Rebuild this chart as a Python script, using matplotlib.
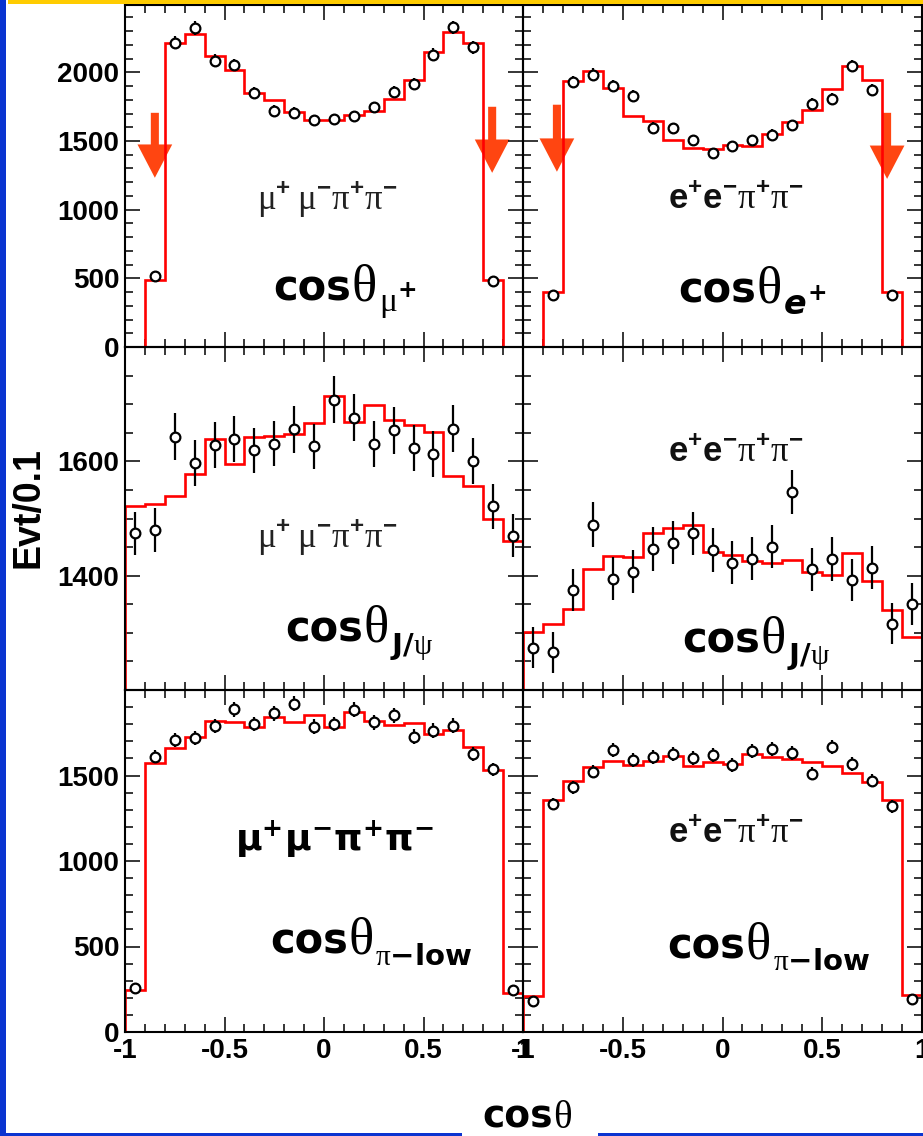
import numpy as np
import matplotlib
matplotlib.use("Agg")
import matplotlib.pyplot as plt
from matplotlib import font_manager as fm
from matplotlib.font_manager import FontProperties
from matplotlib.ticker import MultipleLocator, FixedLocator, NullFormatter
from matplotlib.patches import Rectangle
from matplotlib.textpath import TextToPath
from matplotlib.transforms import offset_copy

nan = np.nan

# ---------------- data ----------------
bin_edges = [-1.0, -0.9, -0.8, -0.7, -0.6, -0.5, -0.4, -0.3, -0.2, -0.1, 0.0,
             0.1, 0.2, 0.3, 0.4, 0.5, 0.6, 0.7, 0.8, 0.9, 1.0]

# row 1: cos(theta) of lepton+
mm_mu_hist = [0, 490, 2214, 2280, 2122, 2019, 1849, 1796, 1708, 1654, 1650,
              1691, 1715, 1805, 1946, 2146, 2294, 2214, 491, 0]
mm_mu_data = [nan, 516, 2214, 2323, 2085, 2053, 1849, 1720, 1703, 1650, 1659,
              1679, 1744, 1854, 1915, 2129, 2328, 2182, 479, nan]
mm_mu_err = [0, 23, 47, 48, 46, 45, 43, 41, 41, 41, 41, 41, 42, 43, 44, 46, 48, 47, 22, 0]

ee_e_hist = [0, 401, 1934, 2007, 1886, 1679, 1642, 1508, 1448, 1440, 1472,
             1460, 1552, 1635, 1727, 1878, 2044, 1946, 397, 0]
ee_e_data = [nan, 377, 1927, 1983, 1898, 1825, 1598, 1594, 1504, 1411, 1465,
             1504, 1545, 1613, 1769, 1808, 2044, 1873, 377, nan]
ee_e_err = [0, 19, 44, 45, 44, 43, 40, 40, 39, 38, 38, 39, 39, 40, 42, 43, 45, 43, 19, 0]

# row 2: cos(theta) of J/psi
mm_jpsi_hist = [1522, 1525, 1539, 1578, 1639, 1596, 1642, 1645, 1648, 1667,
                1714, 1669, 1698, 1673, 1664, 1651, 1575, 1557, 1499, 1461]
mm_jpsi_data = [1474, 1480, 1643, 1597, 1629, 1639, 1619, 1631, 1656, 1626,
                1708, 1676, 1630, 1654, 1623, 1613, 1657, 1601, 1521, 1470]
mm_jpsi_err = [37, 38, 41, 40, 40, 40, 40, 40, 41, 40, 41, 41, 40, 41, 40, 40, 41, 40, 39, 38]

ee_jpsi_hist = [1302, 1316, 1342, 1411, 1435, 1432, 1474, 1483, 1488, 1442,
                1437, 1425, 1423, 1427, 1406, 1401, 1439, 1391, 1340, 1293]
ee_jpsi_data = [1274, 1266, 1375, 1489, 1395, 1407, 1447, 1458, 1474, 1445,
                1423, 1430, 1451, 1546, 1411, 1429, 1392, 1414, 1316, 1350]
ee_jpsi_err = [36, 36, 37, 39, 37, 38, 38, 38, 38, 38, 38, 38, 38, 39, 38, 38, 37, 38, 36, 37]

# row 3: cos(theta) of low-momentum pion
mm_pi_hist = [247, 1576, 1660, 1728, 1821, 1810, 1786, 1845, 1813, 1851,
              1786, 1874, 1816, 1796, 1806, 1743, 1767, 1664, 1533, 228]
mm_pi_data = [257, 1611, 1705, 1718, 1790, 1888, 1800, 1864, 1919, 1786,
              1802, 1884, 1810, 1851, 1728, 1763, 1792, 1625, 1537, 247]
mm_pi_err = [16, 40, 41, 41, 42, 43, 42, 43, 44, 42, 42, 43, 43, 43, 42, 42, 42, 40, 39, 16]

ee_pi_hist = [208, 1354, 1465, 1547, 1582, 1562, 1582, 1615, 1556, 1578,
              1568, 1625, 1611, 1595, 1578, 1553, 1514, 1461, 1358, 214]
ee_pi_data = [183, 1332, 1430, 1523, 1650, 1592, 1607, 1625, 1601, 1621,
              1562, 1644, 1654, 1630, 1510, 1664, 1568, 1469, 1319, 193]
ee_pi_err = [14, 36, 38, 39, 41, 40, 40, 40, 40, 40, 40, 41, 41, 40, 39, 41, 40, 38, 36, 14]

# cut arrows (x position, tail y, tip y)
mm_cut_arrows = [(-0.85, 1705, 1232), (0.845, 1749, 1268)]
ee_cut_arrows = [(-0.83, 1764, 1276), (0.825, 1705, 1224)]

x_ticklabels = ["-1", "-0.5", "0", "0.5", "1"]

# ---------------- fonts ----------------
avail = {f.name for f in fm.fontManager.ttflist}
if "Liberation Sans Narrow" in avail:
    NUMFONT, NUMSIZE = "Liberation Sans Narrow", 24
else:
    NUMFONT, NUMSIZE = "Liberation Sans", 20

plt.rcParams["mathtext.fontset"] = "custom"
plt.rcParams["mathtext.rm"] = "Liberation Serif"
plt.rcParams["mathtext.it"] = "DejaVu Sans:bold:italic"
plt.rcParams["mathtext.bf"] = "DejaVu Sans:bold"
plt.rcParams["mathtext.sf"] = "Liberation Sans:bold"

W, H = 923, 1136
fig = plt.figure(figsize=(W / 100, H / 100), dpi=100)
fig.patch.set_facecolor("white")

# frame decoration (blue left bar, yellow top bar, blue bottom line with gap)
BLUE = "#0a34d0"
fig.patches.append(Rectangle((0, 0), 6 / W, 1, transform=fig.transFigure,
                             facecolor=BLUE, edgecolor="none", zorder=0))
fig.patches.append(Rectangle((8 / W, 1 - 4 / H), 1, 4 / H, transform=fig.transFigure,
                             facecolor="#ffcc00", edgecolor="none", zorder=0))
fig.patches.append(Rectangle((0, 0), 462 / W, 3 / H, transform=fig.transFigure,
                             facecolor=BLUE, edgecolor="none", zorder=0))
fig.patches.append(Rectangle((598 / W, 0), 1, 3 / H, transform=fig.transFigure,
                             facecolor=BLUE, edgecolor="none", zorder=0))

cols_px = [(125, 523), (523, 922)]
rows_px = [(5, 347), (347, 690), (690, 1032)]

centers = [(a + b) / 2 for a, b in zip(bin_edges[:-1], bin_edges[1:])]

panels = [
    [(mm_mu_hist, mm_mu_data, mm_mu_err), (ee_e_hist, ee_e_data, ee_e_err)],
    [(mm_jpsi_hist, mm_jpsi_data, mm_jpsi_err), (ee_jpsi_hist, ee_jpsi_data, ee_jpsi_err)],
    [(mm_pi_hist, mm_pi_data, mm_pi_err), (ee_pi_hist, ee_pi_data, ee_pi_err)],
]
ylims = [(0, 2490), (1200, 1800), (0, 2000)]
ymajor = [[0, 500, 1000, 1500, 2000], [1400, 1600], [0, 500, 1000, 1500]]
yminor = [100, 50, 100]

axes = [[None, None] for _ in range(3)]
for r in range(3):
    for c in range(2):
        x0, x1 = cols_px[c]
        ytop, ybot = rows_px[r]
        ax = fig.add_axes([x0 / W, (H - ybot) / H, (x1 - x0) / W, (ybot - ytop) / H])
        axes[r][c] = ax
        hist, data, err = panels[r][c]
        ax.stairs(hist, bin_edges, color="#ff0000", lw=1.9, zorder=2)
        ax.errorbar(centers, data, yerr=err, fmt="none", ecolor="black",
                    elinewidth=1.6, capsize=0, zorder=3)
        ax.plot(centers, data, "o", ms=7, mfc="white", mec="black", mew=1.6,
                zorder=4, clip_on=False)
        ax.set_xlim(-1, 1)
        ax.set_ylim(*ylims[r])
        ax.xaxis.set_major_locator(FixedLocator([-1, -0.5, 0, 0.5, 1]))
        ax.xaxis.set_minor_locator(MultipleLocator(0.1))
        ax.yaxis.set_major_locator(FixedLocator(ymajor[r]))
        ax.yaxis.set_minor_locator(MultipleLocator(yminor[r]))
        ax.tick_params(which="both", direction="in", top=True, right=True,
                       width=1.1, color="black")
        ax.tick_params(which="major", length=11)
        ax.tick_params(which="minor", length=5.5)
        ax.tick_params(axis="y", pad=4)
        ax.tick_params(axis="x", pad=4)
        for sp in ax.spines.values():
            sp.set_linewidth(1.5)
        if r == 2:
            ax.set_xticks([-1, -0.5, 0, 0.5, 1])
            ax.set_xticklabels(x_ticklabels, fontsize=NUMSIZE,
                               fontfamily=NUMFONT, fontweight="bold")
        else:
            ax.xaxis.set_major_formatter(NullFormatter())
        if c == 0:
            ax.set_yticklabels([str(v) for v in ymajor[r]], fontsize=NUMSIZE,
                               fontfamily=NUMFONT, fontweight="bold")
        else:
            ax.yaxis.set_major_formatter(NullFormatter())
        ax.patch.set_alpha(0)

# cut arrows
arrow_color = "#ff4511"
for ax, arrows in [(axes[0][0], mm_cut_arrows), (axes[0][1], ee_cut_arrows)]:
    for xa, ytail, ytip in arrows:
        ax.annotate("", xy=(xa, ytip), xytext=(xa, ytail),
                    arrowprops=dict(arrowstyle="simple,head_length=2.4,head_width=2.5,tail_width=0.58",
                                    mutation_scale=10, color=arrow_color,
                                    shrinkA=0, shrinkB=0, lw=0),
                    zorder=1)

# ---------------- annotations ----------------
ttp = TextToPath()


def text_width(s, fp, ismath=False):
    w, h, d = ttp.get_text_width_height_descent(s, fp, ismath=ismath)
    return w


def cos_label(trans_base, x, y, sub=None, cos_size=30, th_size=38,
              sub_size=22, sub_dy=-8.5, target=None):
    target = target if target is not None else fig
    fp_c = FontProperties(family="DejaVu Sans", weight="bold", size=cos_size)
    fp_t = FontProperties(family="Liberation Serif", size=th_size)
    target.text(x, y, "cos", transform=trans_base, fontproperties=fp_c,
                ha="left", va="baseline", zorder=5)
    wc = text_width("cos", fp_c)
    tr = offset_copy(trans_base, fig=fig, x=wc + 0.5, y=0, units="points")
    target.text(x, y, "\u03b8", transform=tr, fontproperties=fp_t,
                ha="left", va="baseline", zorder=5)
    wt = text_width("\u03b8", fp_t)
    if sub:
        tr2 = offset_copy(trans_base, fig=fig, x=wc + wt + 1.5, y=sub_dy, units="points")
        target.text(x, y, sub, transform=tr2, fontsize=sub_size,
                    ha="left", va="baseline", zorder=5)


small_mm = r"$\mathrm{\mu}^{\mathsf{+}}\,\mathrm{\mu}^{\mathsf{-}}\mathrm{\pi}^{\mathsf{+}}\mathrm{\pi}^{\mathsf{-}}$"
small_ee = r"$\mathsf{e}^{\mathsf{+}}\mathsf{e}^{\mathsf{-}}\mathrm{\pi}^{\mathsf{+}}\mathrm{\pi}^{\mathsf{-}}$"
big_mm = r"$\mathbf{\mu^{+}\mu^{-}\pi^{+}\pi^{-}}$"


def put(ax, x, y, s, size, color="black"):
    ax.text(x, y, s, transform=ax.transAxes, ha="left", va="baseline",
            fontsize=size, color=color, zorder=5)


put(axes[0][0], 0.332, 0.40, small_mm, 25, "#222222")
put(axes[0][1], 0.363, 0.403, small_ee, 25, "#111111")
put(axes[1][0], 0.332, 0.414, small_mm, 25, "#222222")
put(axes[1][1], 0.363, 0.665, small_ee, 25, "#111111")
put(axes[2][0], 0.276, 0.532, big_mm, 26)
put(axes[2][1], 0.363, 0.553, small_ee, 25, "#111111")

sub_mu = r"$\mathrm{\mu}^{\mathbf{+}}$"
sub_e = r"$\mathit{e}^{\mathbf{+}}$"
sub_jpsi = r"$\mathbf{J/}\mathrm{\psi}$"
sub_pi = r"$\mathrm{\pi}\mathbf{-low}$"

cos_label(axes[0][0].transAxes, 0.372, 0.137, sub_mu, sub_size=24, target=axes[0][0])
cos_label(axes[0][1].transAxes, 0.388, 0.13, sub_e, sub_size=24, target=axes[0][1])
cos_label(axes[1][0].transAxes, 0.402, 0.14, sub_jpsi, sub_size=21, target=axes[1][0])
cos_label(axes[1][1].transAxes, 0.398, 0.11, sub_jpsi, sub_size=21, target=axes[1][1])
cos_label(axes[2][0].transAxes, 0.364, 0.23, sub_pi, sub_size=21, target=axes[2][0])
cos_label(axes[2][1].transAxes, 0.361, 0.216, sub_pi, sub_size=21, target=axes[2][1])

# axis titles
fig.text(28 / W, 1 - 508 / H, "Evt/0.1", rotation=90, ha="center", va="center",
         fontsize=27, fontweight="bold", fontfamily="Liberation Sans")
cos_label(fig.transFigure, 482 / W, 8 / H, None, cos_size=27, th_size=28)

fig.savefig("out.png", dpi=100)
